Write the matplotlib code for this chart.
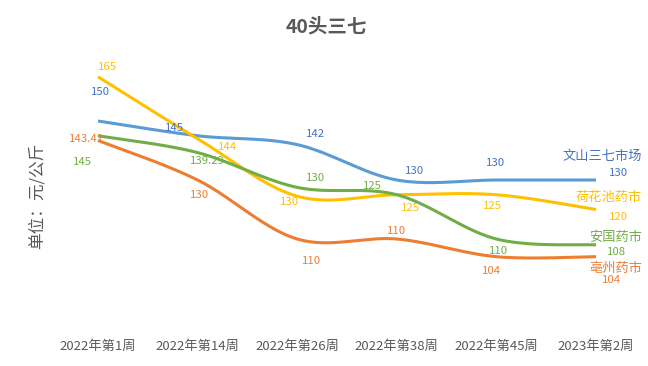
import matplotlib
matplotlib.use("Agg")
import matplotlib.pyplot as plt
import numpy as np

plt.rcParams['font.family'] = ['Noto Sans CJK SC', 'DejaVu Sans']

weeks = ["2022年第1周", "2022年第14周", "2022年第26周", "2022年第38周", "2022年第45周", "2023年第2周"]
names = ["文山三七市场", "荷花池药市", "安国药市", "亳州药市"]

# values as the lines are drawn
wenshan = [150, 145, 142, 130, 130, 130]
hehuachi = [165, 144, 124.5, 125, 125, 120]
anguo = [145, 139.29, 127.5, 125, 110, 108]
bozhou = [143.41, 130, 110, 110, 104, 104]

# data label texts shown on the chart
wenshan_lbl = ["150", "145", "142", "130", "130", "130"]
hehuachi_lbl = ["165", "144", "130", "125", "125", "120"]
anguo_lbl = ["145", "139.29", "130", "125", "110", "108"]
bozhou_lbl = ["143.41", "130", "110", "110", "104", "104"]

line_colors = ["#5B9BD5", "#FFC000", "#70AD47", "#ED7D31"]
text_colors = ["#4472C4", "#FFC000", "#70AD47", "#ED7D31"]

# label offsets in pixels (dx, dy down positive), roughly where Excel put them
offsets = [
    [(2, -29), (-23, -8), (18, -11), (18, -9), (-1, -17), (23, -7)],
    [(9, -10), (30, 8), (-8, 6), (14, 13), (-4, 11), (22, 8)],
    [(-16, 26), (10, 8), (18, -9), (-24, -9), (2, 12), (21, 7)],
    [(-11, -1), (2, 15), (14, 22), (0, -8), (-5, 14), (16, 23)],
]
name_pos = [156, 197, 237, 268]


def smooth(xs, ys, n=40):
    # bezier curve through the points, excel-like smoothing
    pts = np.column_stack([xs, ys]).astype(float)
    out = []
    for i in range(len(pts) - 1):
        p0 = pts[max(i - 1, 0)]
        p1 = pts[i]
        p2 = pts[i + 1]
        p3 = pts[min(i + 2, len(pts) - 1)]
        c1 = p1 + (p2 - p0) / 6.0
        c2 = p2 - (p3 - p1) / 6.0
        t = np.linspace(0, 1, n)[:, None]
        seg = ((1 - t) ** 3) * p1 + 3 * ((1 - t) ** 2) * t * c1 + 3 * (1 - t) * t ** 2 * c2 + t ** 3 * p2
        out.append(seg if i == 0 else seg[1:])
    out = np.vstack(out)
    return out[:, 0], out[:, 1]


W, H = 648, 366
fig = plt.figure(figsize=(W / 100, H / 100), dpi=100)
ax_left, ax_right, ax_top, ax_bot = 48.2, 645.8, 40, 325
ax = fig.add_axes([ax_left / W, 1 - ax_bot / H, (ax_right - ax_left) / W, (ax_bot - ax_top) / H])
ax.set_xlim(-0.5, 5.5)
ax.set_ylim(150 - (ax_bot - 121) / 2.95, 150 + (121 - ax_top) / 2.95)

x = np.arange(len(weeks))
series = [wenshan, hehuachi, anguo, bozhou]
labels = [wenshan_lbl, hehuachi_lbl, anguo_lbl, bozhou_lbl]
for k in range(4):
    sx, sy = smooth(x, series[k])
    ax.plot(sx, sy, color=line_colors[k], lw=2.2, solid_capstyle='butt', zorder=2)
    for i in range(len(x)):
        dx, dy = offsets[k][i]
        ax.annotate(labels[k][i], (x[i], series[k][i]), xytext=(dx * 0.72, -dy * 0.72),
                    textcoords='offset points', ha='center', va='center',
                    fontsize=8.2, color=text_colors[k], zorder=3)
    fig.text(642 / W, 1 - name_pos[k] / H, names[k], ha='right', va='center',
             fontsize=9.5, color=text_colors[k])

ax.set_xticks(x)
ax.set_xticklabels(weeks, fontsize=9.5, color="#595959")
ax.tick_params(axis='x', length=0, pad=11)
ax.set_yticks([])
for s in ax.spines.values():
    s.set_visible(False)

fig.text(326 / W, 1 - 27 / H, "40头三七", ha='center', va='center', fontsize=14,
         fontweight='bold', color="#595959")
fig.text(37 / W, 1 - 196 / H, "单位：元/公斤", ha='center', va='center', rotation=90,
         fontsize=12, color="#595959")

fig.savefig("out.png", dpi=100)
